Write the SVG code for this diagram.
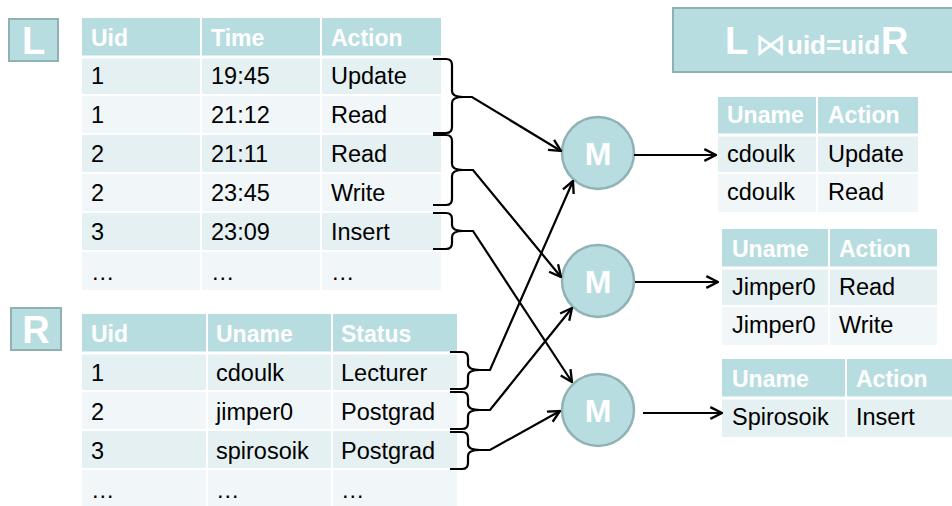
<svg xmlns="http://www.w3.org/2000/svg" width="952" height="506" viewBox="0 0 952 506">
  <defs>
    <marker id="arrow" markerUnits="userSpaceOnUse" markerWidth="14" markerHeight="14" viewBox="0 0 12 12" refX="11" refY="6" orient="auto">
      <path d="M1,1 L11,6 L1,11" fill="none" stroke="#000" stroke-width="2" stroke-linejoin="miter"/>
    </marker>
  </defs>
  <style>
    text { font-family: "Liberation Sans", Arial, sans-serif; }
    .hd { fill: #b8dde1; }
    .rd { fill: #e4f0f2; }
    .rl { fill: #f1f7f8; }
    .grid { stroke: #ffffff; stroke-width: 2; }
    .gridh { stroke: #ffffff; stroke-width: 3; }
    .ht { fill: #ffffff; font-weight: bold; font-size: 23px; }
    .bt { fill: #000000; font-size: 23.5px; }
    .badge { fill: #b8dde1; stroke: #8fb1b3; stroke-width: 2; }
    .bl { fill: #ffffff; font-weight: bold; font-size: 38px; text-anchor: middle; }
    .mc { fill: #b8dde1; stroke: #8fb3b5; stroke-width: 2.5; }
    .mt { fill: #ffffff; font-weight: bold; font-size: 32px; text-anchor: middle; }
    .brace { fill: none; stroke: #000; stroke-width: 2.2; }
    .conn { fill: none; stroke: #000; stroke-width: 2.2; marker-end: url(#arrow); }
  </style>

  <!-- relation labels -->
  <g id="badge-L">
    <rect class="badge" x="9" y="19" width="49" height="42"/>
    <text class="bl" x="33.5" y="54">L</text>
  </g>
  <g id="badge-R">
    <rect class="badge" x="11" y="308" width="50" height="42"/>
    <text class="bl" x="36" y="343">R</text>
  </g>

  <!-- join expression -->
  <g id="title">
    <rect class="badge" x="673" y="8" width="285" height="64"/>
    <text y="54" fill="#ffffff" font-weight="bold"><tspan x="725" font-size="38px">L</tspan><tspan x="755" y="55" font-family="DejaVu Sans, sans-serif" font-weight="normal" font-size="31px">⋈</tspan><tspan x="787" y="54" font-size="26px">uid=uid</tspan><tspan x="881" font-size="38px">R</tspan></text>
  </g>

  <!-- table L -->
  <g id="table-L">
    <rect class="hd" x="82" y="18" width="359" height="38"/>
    <rect class="rd" x="82" y="56" width="359" height="39"/>
    <rect class="rl" x="82" y="95" width="359" height="39"/>
    <rect class="rd" x="82" y="134" width="359" height="39"/>
    <rect class="rl" x="82" y="173" width="359" height="39"/>
    <rect class="rd" x="82" y="212" width="359" height="39"/>
    <rect class="rl" x="82" y="251" width="359" height="39"/>
    <line class="gridh" x1="82" y1="57" x2="441" y2="57"/>
    <line class="grid" x1="82" y1="95" x2="441" y2="95"/>
    <line class="grid" x1="82" y1="134" x2="441" y2="134"/>
    <line class="grid" x1="82" y1="173" x2="441" y2="173"/>
    <line class="grid" x1="82" y1="212" x2="441" y2="212"/>
    <line class="grid" x1="82" y1="251" x2="441" y2="251"/>
    <line class="grid" x1="201" y1="18" x2="201" y2="290"/>
    <line class="grid" x1="321" y1="18" x2="321" y2="290"/>
    <text class="ht" x="91" y="46">Uid</text>
    <text class="ht" x="211" y="46">Time</text>
    <text class="ht" x="331" y="46">Action</text>
    <text class="bt" x="91" y="84">1</text><text class="bt" x="211" y="84">19:45</text><text class="bt" x="331" y="84">Update</text>
    <text class="bt" x="91" y="123">1</text><text class="bt" x="211" y="123">21:12</text><text class="bt" x="331" y="123">Read</text>
    <text class="bt" x="91" y="162">2</text><text class="bt" x="211" y="162">21:11</text><text class="bt" x="331" y="162">Read</text>
    <text class="bt" x="91" y="201">2</text><text class="bt" x="211" y="201">23:45</text><text class="bt" x="331" y="201">Write</text>
    <text class="bt" x="91" y="240">3</text><text class="bt" x="211" y="240">23:09</text><text class="bt" x="331" y="240">Insert</text>
    <text class="bt" x="91" y="280">…</text><text class="bt" x="211" y="280">…</text><text class="bt" x="331" y="280">…</text>
  </g>

  <!-- table R -->
  <g id="table-R">
    <rect class="hd" x="82" y="314" width="375" height="38"/>
    <rect class="rd" x="82" y="352" width="375" height="39"/>
    <rect class="rl" x="82" y="391" width="375" height="39"/>
    <rect class="rd" x="82" y="430" width="375" height="39"/>
    <rect class="rl" x="82" y="469" width="375" height="37"/>
    <line class="gridh" x1="82" y1="353" x2="457" y2="353"/>
    <line class="grid" x1="82" y1="391" x2="457" y2="391"/>
    <line class="grid" x1="82" y1="430" x2="457" y2="430"/>
    <line class="grid" x1="82" y1="469" x2="457" y2="469"/>
    <line class="grid" x1="207" y1="314" x2="207" y2="506"/>
    <line class="grid" x1="332" y1="314" x2="332" y2="506"/>
    <text class="ht" x="91" y="342">Uid</text>
    <text class="ht" x="216" y="342">Uname</text>
    <text class="ht" x="341" y="342">Status</text>
    <text class="bt" x="91" y="381">1</text><text class="bt" x="216" y="381">cdoulk</text><text class="bt" x="341" y="381">Lecturer</text>
    <text class="bt" x="91" y="420">2</text><text class="bt" x="216" y="420">jimper0</text><text class="bt" x="341" y="420">Postgrad</text>
    <text class="bt" x="91" y="459">3</text><text class="bt" x="216" y="459">spirosoik</text><text class="bt" x="341" y="459">Postgrad</text>
    <text class="bt" x="91" y="498">…</text><text class="bt" x="216" y="498">…</text><text class="bt" x="341" y="498">…</text>
  </g>

  <!-- mappers -->
  <g id="mapper-1">
    <circle class="mc" cx="598" cy="153" r="36"/>
    <text class="mt" x="598" y="165">M</text>
  </g>
  <g id="mapper-2">
    <circle class="mc" cx="598" cy="281" r="36"/>
    <text class="mt" x="598" y="293">M</text>
  </g>
  <g id="mapper-3">
    <circle class="mc" cx="598" cy="410" r="36"/>
    <text class="mt" x="598" y="422">M</text>
  </g>

  <!-- output tables -->
  <g id="result-1">
    <rect class="hd" x="718" y="97" width="200" height="37"/>
    <rect class="rd" x="718" y="134" width="200" height="39"/>
    <rect class="rl" x="718" y="173" width="200" height="39"/>
    <line class="gridh" x1="718" y1="135" x2="918" y2="135"/>
    <line class="grid" x1="718" y1="173" x2="918" y2="173"/>
    <line class="grid" x1="817" y1="97" x2="817" y2="212"/>
    <text class="ht" x="727" y="123">Uname</text><text class="ht" x="828" y="123">Action</text>
    <text class="bt" x="727" y="162">cdoulk</text><text class="bt" x="828" y="162">Update</text>
    <text class="bt" x="727" y="200">cdoulk</text><text class="bt" x="828" y="200">Read</text>
  </g>
  <g id="result-2">
    <rect class="hd" x="722" y="229" width="215" height="38"/>
    <rect class="rd" x="722" y="267" width="215" height="39"/>
    <rect class="rl" x="722" y="306" width="215" height="39"/>
    <line class="gridh" x1="722" y1="268" x2="937" y2="268"/>
    <line class="grid" x1="722" y1="306" x2="937" y2="306"/>
    <line class="grid" x1="829" y1="229" x2="829" y2="345"/>
    <text class="ht" x="732" y="257">Uname</text><text class="ht" x="839" y="257">Action</text>
    <text class="bt" x="732" y="295">Jimper0</text><text class="bt" x="839" y="295">Read</text>
    <text class="bt" x="732" y="333">Jimper0</text><text class="bt" x="839" y="333">Write</text>
  </g>
  <g id="result-3">
    <rect class="hd" x="722" y="359" width="230" height="38"/>
    <rect class="rd" x="722" y="397" width="230" height="40"/>
    <line class="gridh" x1="722" y1="398" x2="952" y2="398"/>
    <line class="grid" x1="846" y1="359" x2="846" y2="437"/>
    <text class="ht" x="732" y="387">Uname</text><text class="ht" x="856" y="387">Action</text>
    <text class="bt" x="732" y="425">Spirosoik</text><text class="bt" x="856" y="425">Insert</text>
  </g>

  <!-- braces grouping rows by uid, and the arrows -->
  <g id="connectors">
    <path class="brace" d="M433,59 H446 Q452,59 452,65 V91 Q452,97 463,97 Q452,97 452,103 V127 Q452,133 446,133 H433"/>
    <path class="brace" d="M433,135 H446 Q452,135 452,141 V164 Q452,170 463,170 Q452,170 452,176 V199 Q452,205 446,205 H433"/>
    <path class="brace" d="M433,213 H446 Q452,213 452,219 V225 Q452,231 463,231 Q452,231 452,237 V243 Q452,249 446,249 H433"/>
    <path class="brace" d="M450,352 H462 Q468,352 468,358 V364 Q468,370 480,370 Q468,370 468,376 V383 Q468,389 462,389 H450"/>
    <path class="brace" d="M450,392 H462 Q468,392 468,398 V404 Q468,410 480,410 Q468,410 468,416 V423 Q468,429 462,429 H450"/>
    <path class="brace" d="M450,432 H462 Q468,432 468,438 V444 Q468,450 480,450 Q468,450 468,456 V463 Q468,469 462,469 H450"/>

    <path class="conn" d="M462,97 H472 L561,151"/>
    <path class="conn" d="M462,170 H473 L561,277"/>
    <path class="conn" d="M462,231 H473 L572,382"/>
    <path class="conn" d="M479,370 H490 L573,181"/>
    <path class="conn" d="M479,410 H490 L572,308"/>
    <path class="conn" d="M479,450 H490 L560,411"/>

    <path class="conn" d="M634,155 H716"/>
    <path class="conn" d="M635,282 H718"/>
    <path class="conn" d="M643,413 H722"/>
  </g>
</svg>
